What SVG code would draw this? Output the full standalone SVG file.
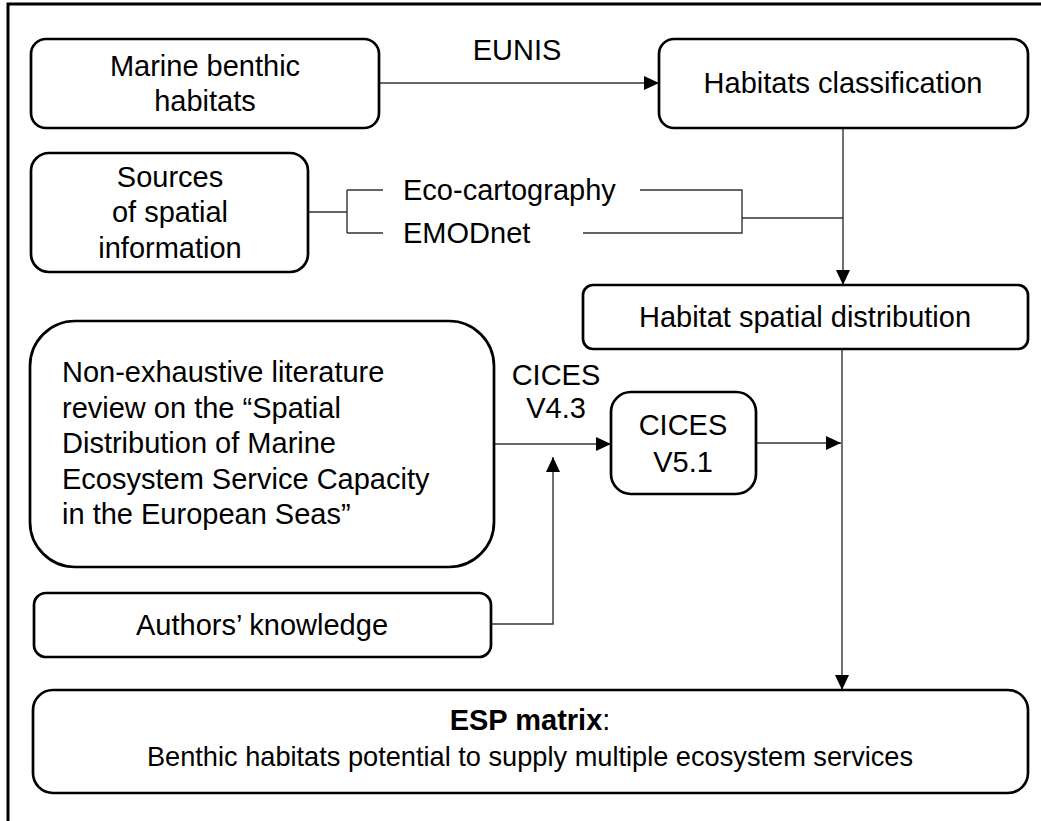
<svg xmlns="http://www.w3.org/2000/svg" width="1041" height="821" viewBox="0 0 1041 821">
<style>
.box{fill:#fff;stroke:#000;stroke-width:2.7}
.ln{fill:none;stroke:#333;stroke-width:1.4}
.t{font-family:"Liberation Sans",Arial,sans-serif;font-size:29px;fill:#000}
.c{text-anchor:middle}
.frame{fill:none;stroke:#000;stroke-width:3}
</style>
<defs>
<marker id="arr" markerUnits="userSpaceOnUse" markerWidth="15" markerHeight="15" refX="15" refY="7" orient="auto">
<path d="M0,0 L15,7 L0,14 z" fill="#000"/>
</marker>
</defs>
<rect width="1041" height="821" fill="#fff"/>
<path class="frame" d="M8,821 V4 H1041"/>

<g id="connectors">
<line class="ln" x1="380" y1="83" x2="659" y2="83" marker-end="url(#arr)"/>
<path class="ln" d="M308,212 H347 M347,190 V233 M347,190 H383 M347,233 H383"/>
<path class="ln" d="M640,190 H742 V233 H583 M742,218 H843"/>
<line class="ln" x1="843" y1="129" x2="843" y2="285" marker-end="url(#arr)"/>
<line class="ln" x1="842" y1="350" x2="842" y2="690" marker-end="url(#arr)"/>
<line class="ln" x1="495" y1="444" x2="611" y2="444" marker-end="url(#arr)"/>
<line class="ln" x1="757" y1="443" x2="841" y2="443" marker-end="url(#arr)"/>
<path class="ln" d="M492,624 H553 V457" marker-end="url(#arr)"/>
<text class="t c" x="517" y="60">EUNIS</text>
<text class="t" x="403" y="200">Eco-cartography</text>
<text class="t" x="403" y="243">EMODnet</text>
<text class="t c" x="556"><tspan x="556" y="385">CICES</tspan><tspan x="556" y="418">V4.3</tspan></text>
</g>

<g id="marine">
<rect class="box" x="31" y="39" width="348" height="89" rx="15"/>
<text class="t c"><tspan x="205" y="76">Marine benthic</tspan><tspan x="205" y="111">habitats</tspan></text>
</g>

<g id="classification">
<rect class="box" x="659" y="39" width="369" height="89" rx="15"/>
<text class="t c" x="843" y="93">Habitats classification</text>
</g>

<g id="sources">
<rect class="box" x="31" y="153" width="277" height="119" rx="18"/>
<text class="t c"><tspan x="170" y="187">Sources</tspan><tspan x="170" y="222">of spatial</tspan><tspan x="170" y="258">information</tspan></text>
</g>

<g id="distribution">
<rect class="box" x="583" y="285" width="445" height="64" rx="10"/>
<text class="t c" x="805" y="327">Habitat spatial distribution</text>
</g>

<g id="literature">
<rect class="box" x="30" y="321" width="464" height="246" rx="45"/>
<text class="t"><tspan x="62" y="382">Non-exhaustive literature</tspan><tspan x="62" y="418">review on the “Spatial</tspan><tspan x="62" y="453">Distribution of Marine</tspan><tspan x="62" y="489">Ecosystem Service Capacity</tspan><tspan x="62" y="524">in the European Seas”</tspan></text>
</g>

<g id="cices51">
<rect class="box" x="611" y="392" width="145" height="102" rx="20"/>
<text class="t c"><tspan x="683" y="435">CICES</tspan><tspan x="683" y="472">V5.1</tspan></text>
</g>

<g id="authors">
<rect class="box" x="34" y="593" width="457" height="64" rx="12"/>
<text class="t c" x="262" y="635">Authors’ knowledge</text>
</g>

<g id="esp">
<rect class="box" x="33" y="690" width="995" height="103" rx="20"/>
<text class="t c"><tspan x="530" y="730"><tspan font-weight="bold">ESP matrix</tspan>:</tspan><tspan x="530" y="766" font-size="27.2">Benthic habitats potential to supply multiple ecosystem services</tspan></text>
</g>
</svg>
